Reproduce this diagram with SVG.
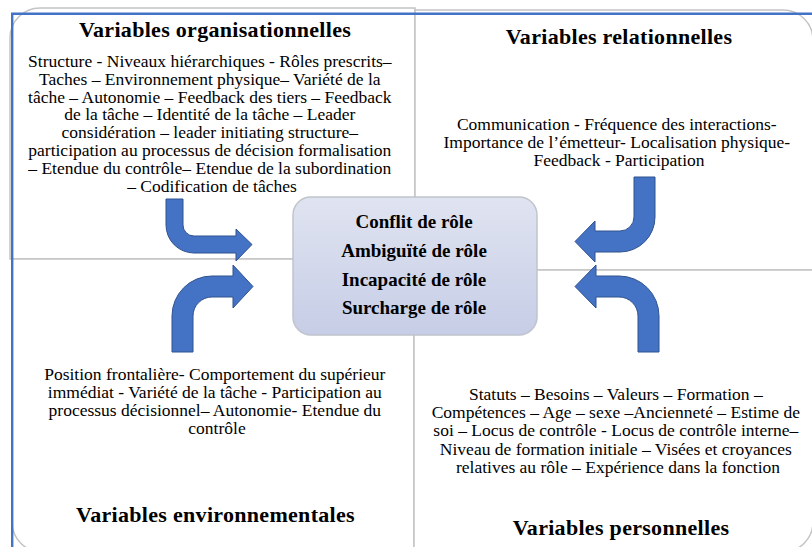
<svg xmlns="http://www.w3.org/2000/svg" width="812" height="547" viewBox="0 0 812 547">
<style>
.q{fill:#fff;stroke:#c4c4c4;stroke-width:1.5}
.t{font-family:"Liberation Serif","Times New Roman",serif;font-weight:bold;font-size:22px;letter-spacing:0.3px;fill:#000;text-anchor:middle}
.b{font-family:"Liberation Serif","Times New Roman",serif;font-size:17.5px;fill:#000;text-anchor:middle}
.c{font-family:"Liberation Serif","Times New Roman",serif;font-weight:bold;font-size:19px;fill:#000;text-anchor:middle}
.ar{fill:#4472c4;stroke:#2f528f;stroke-width:1}
</style>
<defs>
<linearGradient id="cg" x1="0" y1="0" x2="0" y2="1">
<stop offset="0" stop-color="#e0e4f1"/>
<stop offset="1" stop-color="#c6cde6"/>
</linearGradient>
</defs>
<rect width="812" height="547" fill="#fff"/>
<g id="organisationnelles">
<path class="q" d="M10,259 V38 A30,30 0 0 1 40,8 H415 V259 Z"/>
<text class="t" x="215" y="37">Variables organisationnelles</text>
<text class="b" x="212">
<tspan x="212" y="67">Structure - Niveaux hiérarchiques - Rôles prescrits–</tspan>
<tspan x="212" y="84.8">Taches – Environnement physique– Variété de la</tspan>
<tspan x="212" y="102.6">tâche – Autonomie – Feedback des tiers – Feedback</tspan>
<tspan x="212" y="120.4">de la tâche – Identité de la tâche – Leader</tspan>
<tspan x="212" y="138.2">considération – leader initiating structure–</tspan>
<tspan x="212" y="156">participation au processus de décision formalisation</tspan>
<tspan x="212" y="173.8">– Etendue du contrôle– Etendue de la subordination</tspan>
<tspan x="212" y="191.6">– Codification de tâches</tspan>
</text>
</g>
<g id="relationnelles">
<path class="q" d="M415,270 V10 H783 A30,30 0 0 1 813,40 V270 Z"/>
<text class="t" x="619" y="44">Variables relationnelles</text>
<text class="b">
<tspan x="619" y="130">Communication - Fréquence des interactions-</tspan>
<tspan x="619" y="148">Importance de l’émetteur- Localisation physique-</tspan>
<tspan x="619" y="166">Feedback - Participation</tspan>
</text>
</g>
<g id="environnementales">
<path class="q" d="M12,259 H414 V552 H42 A30,30 0 0 1 12,522 Z"/>
<text class="b">
<tspan x="217" y="379.5">Position frontalière- Comportement du supérieur</tspan>
<tspan x="217" y="397.7">immédiat - Variété de la tâche - Participation au</tspan>
<tspan x="217" y="415.9">processus décisionnel– Autonomie- Etendue du</tspan>
<tspan x="217" y="434">contrôle</tspan>
</text>
<text class="t" x="215.5" y="522">Variables environnementales</text>
</g>
<g id="personnelles">
<path class="q" d="M414,270 H813 V522 A30,30 0 0 1 783,552 H414 Z"/>
<text class="b">
<tspan x="618" y="400">Statuts – Besoins – Valeurs – Formation –</tspan>
<tspan x="618" y="418.2">Compétences – Age – sexe –Ancienneté – Estime de</tspan>
<tspan x="618" y="436.4">soi – Locus de contrôle - Locus de contrôle interne–</tspan>
<tspan x="618" y="454.6">Niveau de formation initiale – Visées et croyances</tspan>
<tspan x="618" y="472.8">relatives au rôle – Expérience dans la fonction</tspan>
</text>
<text class="t" x="621" y="535">Variables personnelles</text>
</g>
<path d="M12.2,547 V13.8 H812" fill="none" stroke="#4472c4" stroke-width="2.4"/>
<g id="connectors">
<path class="ar" d="M166,199 H183 V225 A11,11 0 0 0 194,236 H236 V229 L252,244.5 L236,261 V253 H194 A28,28 0 0 1 166,225 Z"/>
<path class="ar" d="M172,352 V316 A40,40 0 0 1 212,276 H233 V265 L253,286.5 L233,308 V297 H212 A19,19 0 0 0 193,316 V352 Z"/>
<path class="ar" d="M634,177 H655 V217 A35,35 0 0 1 620,252 H595 V262 L575,241.5 L595,221 V231 H620 A14,14 0 0 0 634,217 Z"/>
<path class="ar" d="M659,352 V316 A40,40 0 0 0 619,276 H596 V265 L575,286.5 L596,308 V297 H619 A19,19 0 0 1 638,316 V352 Z"/>
</g>
<g id="roles">
<rect x="293" y="197" width="244" height="138" rx="18" fill="url(#cg)" stroke="#c0c4cc" stroke-width="1.5"/>
<text class="c" x="414" y="228.3">Conflit de rôle</text>
<text class="c" x="414" y="257.3">Ambiguïté de rôle</text>
<text class="c" x="414" y="285.7">Incapacité de rôle</text>
<text class="c" x="414" y="314">Surcharge de rôle</text>
</g>
</svg>
